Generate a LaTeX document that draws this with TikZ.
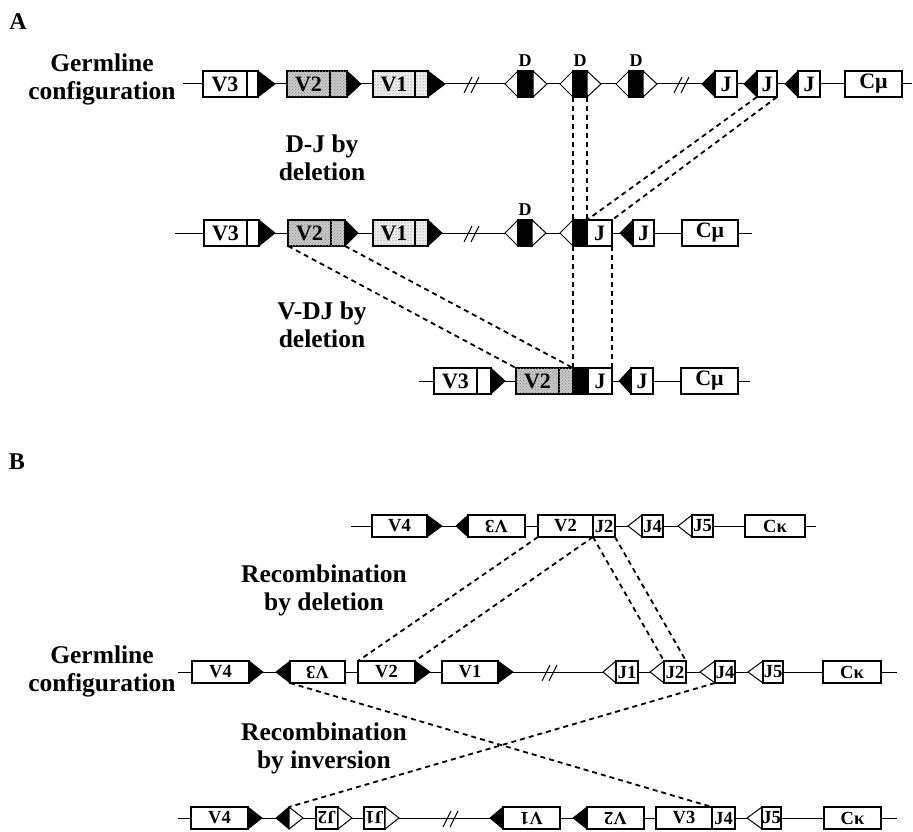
\documentclass[tikz,border=0pt]{standalone}
\usepackage{fontspec}
\setmainfont{Liberation Serif}
\usepackage{graphicx}
\usetikzlibrary{patterns}
\tikzset{
  gline/.style={line width=1pt},
  gbox/.style={draw, line width=1.1pt, fill=white, inner sep=0pt, outer sep=0pt},
  blkbox/.style={fill=black},
  blk/.style={fill=black, draw=black, line width=0.8pt, line join=miter},
  wht/.style={fill=white, draw=black, line width=1pt},
  dsh/.style={line width=1.8pt, dash pattern=on 5pt off 4pt},
  lbl/.style={font=\bfseries\fontsize{25.5}{28}\selectfont, align=center, inner sep=0pt},
  big/.style={font=\bfseries\fontsize{24}{26}\selectfont, inner sep=0pt},
  dlbl/.style={font=\bfseries\fontsize{18}{20}\selectfont, inner sep=0pt},
  gA/.style={font=\bfseries\fontsize{22}{24}\selectfont},
  gB/.style={font=\bfseries\fontsize{18.5}{20}\selectfont},
  v2fill/.style={fill=black!22, postaction={pattern=crosshatch dots, pattern color=black!45}},
  v1fill/.style={fill=black!7, postaction={pattern=dots, pattern color=black!60}},
}
% box: [style]{name}{x1}{x2}{y}{half height}{label}
\newcommand\gb[7][]{\node[gbox,#1,minimum width={#4-#3},minimum height={2*#6}] (#2) at ({(#3+#4)/2},#5) {#7};}
% triangle: {style}{base x}{apex x}{y}{half height}
\newcommand\tri[5]{\filldraw[#1] (#2,{#4-#5}) -- (#3,#4) -- (#2,{#4+#5}) -- cycle;}
% break mark
\newcommand\brk[2]{\draw[line width=1pt] ({#1-9},{#2+9}) -- ({#1-1},{#2-7}) ({#1-2},{#2+9}) -- ({#1+6},{#2-7});}
\newcommand\ud[1]{\rotatebox[origin=c]{180}{#1}}
\begin{document}
\begin{tikzpicture}[x=1pt,y=-1pt]
\useasboundingbox[fill=white] (0,0) rectangle (913,832);

% ---------------- Panel A ----------------
\node[big] (tA) at (18,22) {A};
\node[lbl] (tGA) at (102,79) {Germline\\configuration};
\node[lbl] (tDJ) at (322,158) {D-J by\\deletion};
\node[lbl] (tVDJ) at (322,325) {V-DJ by\\deletion};

\begin{scope}[gA]
% row 1
\coordinate (A1s) at (183,84); \coordinate (A1e) at (912,84);
\draw[gline] (A1s) -- (A1e);
\gb{A1V3}{203}{247}{84}{13}{V3}
\gb{A1V3s}{247}{258}{84}{13}{}
\tri{blk}{258}{275}{84}{13}
\gb[v2fill]{A1V2}{287}{330}{84}{13}{V2}
\gb[v2fill]{A1V2s}{330}{347}{84}{13}{}
\tri{blk}{347}{361}{84}{13}
\gb[v1fill]{A1V1}{373}{415}{84}{13}{V1}
\gb[v1fill]{A1V1s}{415}{428}{84}{13}{}
\tri{blk}{428}{445}{84}{13}
\brk{473}{84}
\tri{wht}{518}{505}{84}{13}
\gb[blkbox]{A1Da}{518}{533}{84}{13}{}
\tri{wht}{533}{547}{84}{13}
\tri{wht}{573}{560}{84}{13}
\gb[blkbox]{A1Db}{573}{587}{84}{13}{}
\tri{wht}{587}{601}{84}{13}
\tri{wht}{629}{616}{84}{13}
\gb[blkbox]{A1Dc}{629}{643}{84}{13}{}
\tri{wht}{643}{657}{84}{13}
\node[dlbl] (A1Dal) at (525,61) {D};
\node[dlbl] (A1Dbl) at (580,61) {D};
\node[dlbl] (A1Dcl) at (636,61) {D};
\brk{683}{84}
\tri{blk}{715}{702}{84}{13}
\gb{A1Ja}{715}{737}{84}{13}{J}
\tri{blk}{757}{744}{84}{13}
\gb{A1Jb}{757}{777}{84}{13}{J}
\tri{blk}{798}{785}{84}{13}
\gb{A1Jc}{798}{820}{84}{13}{J}
\gb{A1C}{845}{902}{84}{13}{Cμ}

% row 2
\coordinate (A2s) at (175,233); \coordinate (A2e) at (752,233);
\draw[gline] (A2s) -- (A2e);
\gb{A2V3}{204}{247}{233}{13}{V3}
\gb{A2V3s}{247}{259}{233}{13}{}
\tri{blk}{259}{275}{233}{13}
\gb[v2fill]{A2V2}{288}{331}{233}{13}{V2}
\gb[v2fill]{A2V2s}{331}{345}{233}{13}{}
\tri{blk}{345}{358}{233}{13}
\gb[v1fill]{A2V1}{373}{415}{233}{13}{V1}
\gb[v1fill]{A2V1s}{415}{428}{233}{13}{}
\tri{blk}{428}{442}{233}{13}
\brk{473}{233}
\tri{wht}{518}{505}{233}{13}
\gb[blkbox]{A2Da}{518}{532}{233}{13}{}
\tri{wht}{532}{546}{233}{13}
\node[dlbl] (A2Dal) at (525,210) {D};
\tri{wht}{573}{560}{233}{13}
\gb[blkbox]{A2Db}{573}{587}{233}{13}{}
\gb{A2J}{587}{612}{233}{13}{J}
\tri{blk}{633}{620}{233}{13}
\gb{A2J2}{633}{654}{233}{13}{J}
\gb{A2C}{682}{738}{233}{13}{Cμ}

% row 3
\coordinate (A3s) at (419,381); \coordinate (A3e) at (750,381);
\draw[gline] (A3s) -- (A3e);
\gb{A3V3}{434}{477}{381}{13}{V3}
\gb{A3V3s}{477}{491}{381}{13}{}
\tri{blk}{491}{505}{381}{13}
\gb[v2fill]{A3V2}{516}{559}{381}{13}{V2}
\gb[v2fill]{A3V2s}{559}{573}{381}{13}{}
\gb[blkbox]{A3Db}{573}{588}{381}{13}{}
\gb{A3J}{588}{612}{381}{13}{J}
\tri{blk}{631}{619}{381}{13}
\gb{A3J2}{631}{653}{381}{13}{J}
\gb{A3C}{681}{738}{381}{13}{Cμ}
\end{scope}

\draw[dsh] (A1Db.south west) -- (A2Db.north west);
\draw[dsh] (A1Db.south east) -- (A2Db.north east);
\draw[dsh] (A1Jb.south west) -- (A2J.north west);
\draw[dsh] (A1Jb.south east) -- (A2J.north east);
\draw[dsh] (A2Db.south west) -- (A3Db.north west);
\draw[dsh] (A2J.south east) -- (A3J.north east);
\draw[dsh] (A2V2.south west) -- (A3V2.north west);
\draw[dsh] (A2V2s.south east) -- (A3V2s.north east);

% ---------------- Panel B ----------------
\node[big] (tB) at (17,462) {B};
\node[lbl] (tGB) at (102,671) {Germline\\configuration};
\node[lbl] (tRD) at (324,590) {Recombination\\by deletion};
\node[lbl] (tRI) at (324,748) {Recombination\\by inversion};

\begin{scope}[gB]
% row B1
\coordinate (B1s) at (351,526); \coordinate (B1e) at (816,526);
\draw[gline] (B1s) -- (B1e);
\gb{B1V4}{372}{427}{526}{11}{V4}
\tri{blk}{427}{442}{526}{11}
\tri{blk}{468}{456}{526}{11}
\gb{B1V3}{468}{525}{526}{11}{\ud{V3}}
\gb{B1V2}{538}{593}{526}{11}{V2}
\gb{B1J2}{593}{615}{526}{11}{J2}
\tri{wht}{642}{628}{526}{11}
\gb{B1J4}{642}{663}{526}{11}{J4}
\tri{wht}{692}{678}{526}{11}
\gb{B1J5}{692}{713}{526}{11}{J5}
\gb{B1C}{745}{805}{526}{11}{Cκ}

% row B2 (germline)
\coordinate (B2s) at (178,672); \coordinate (B2e) at (897,672);
\draw[gline] (B2s) -- (B2e);
\gb{B2V4}{192}{249}{672}{11}{V4}
\tri{blk}{249}{263}{672}{11}
\tri{blk}{290}{276}{672}{11}
\gb{B2V3}{290}{345}{672}{11}{\ud{V3}}
\gb{B2V2}{358}{415}{672}{11}{V2}
\tri{blk}{415}{430}{672}{11}
\gb{B2V1}{442}{498}{672}{11}{V1}
\tri{blk}{498}{513}{672}{11}
\brk{551}{672}
\tri{wht}{616}{603}{672}{11}
\gb{B2J1}{616}{638}{672}{11}{J1}
\tri{wht}{664}{650}{672}{11}
\gb{B2J2}{664}{686}{672}{11}{J2}
\tri{wht}{715}{700}{672}{11}
\gb{B2J4}{715}{735}{672}{11}{J4}
\tri{wht}{763}{748}{672}{11}
\gb{B2J5}{763}{783}{672}{11}{J5}
\gb{B2C}{823}{881}{672}{11}{Cκ}

% row B3 (inversion)
\coordinate (B3s) at (178,818); \coordinate (B3e) at (897,818);
\draw[gline] (B3s) -- (B3e);
\gb{B3V4}{191}{248}{818}{11}{V4}
\tri{blk}{248}{262}{818}{11}
\tri{blk}{289}{276}{818}{11}
\tri{wht}{289}{303}{818}{11}
\coordinate (B3rs) at (289,807);
\gb{B3J2}{316}{338}{818}{11}{\ud{J2}}
\tri{wht}{338}{352}{818}{11}
\gb{B3J1}{364}{385}{818}{11}{\ud{J1}}
\tri{wht}{385}{399}{818}{11}
\brk{452}{818}
\tri{blk}{503}{490}{818}{11}
\gb{B3V1}{503}{560}{818}{11}{\ud{V1}}
\tri{blk}{587}{573}{818}{11}
\gb{B3V2}{587}{644}{818}{11}{\ud{V2}}
\gb{B3V3}{656}{712}{818}{11}{V3}
\gb{B3J4}{712}{735}{818}{11}{J4}
\tri{wht}{762}{747}{818}{11}
\gb{B3J5}{762}{781}{818}{11}{J5}
\gb{B3C}{824}{881}{818}{11}{Cκ}
\end{scope}

\draw[dsh] (B1V2.south west) -- (B2V2.north west);
\draw[dsh] (B1J2.south west) -- (B2V2.north east);
\draw[dsh] (B1J2.south west) -- (B2J2.north west);
\draw[dsh] (B1J2.south east) -- (B2J2.north east);
\draw[dsh] (B2V3.south west) -- (B3V3.north east);
\draw[dsh] (B2J4.south west) -- (B3rs);
\end{tikzpicture}
\end{document}
